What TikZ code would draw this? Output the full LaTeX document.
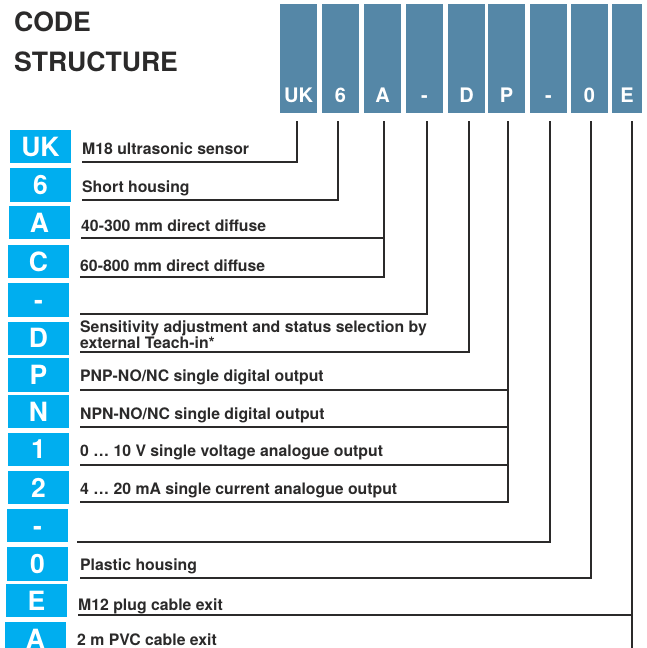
\documentclass[tikz,border=0pt]{standalone}
\usepackage{fontspec}
\setmainfont{TeX Gyre Heros}
\definecolor{headblue}{HTML}{5587A7}
\definecolor{codecyan}{HTML}{00AEEF}
\definecolor{inkline}{HTML}{2B2A2A}
\tikzset{
	hbox/.style={fill=headblue, text=white, inner sep=0pt, minimum width=37pt, text height=98pt, text depth=11pt, font=\fontsize{20}{20}\selectfont\bfseries},
	cbox/.style={fill=codecyan, text=white, inner sep=0pt, minimum width=61pt, text height=26.2pt, text depth=7.2pt, font=\fontsize{26.5}{26.5}\selectfont\bfseries},
	desc/.style={anchor=base west, inner sep=0pt, text=inkline, font=\fontsize{15.8}{16}\selectfont\bfseries},
	title/.style={anchor=base west, inner sep=0pt, text=inkline, font=\fontsize{26.6}{26.6}\selectfont\bfseries},
	conn/.style={draw=inkline, line width=1.8pt},
}
\begin{document}
\begin{tikzpicture}[x=1pt,y=-1pt]
					\useasboundingbox (0,0) rectangle (646,648);
					\path (14,31.7) node[title] (tCode) {CODE};
					\path (14,71) node[title] (tStruct) {STRUCTURE};
					
					\path (298.5,58.5) node[hbox] (hUK) {UK};
					\path (340.5,58.5) node[hbox] (h6) {6};
					\path (382.5,58.5) node[hbox] (hA) {A};
					\path (424.5,58.5) node[hbox] (hDashA) {-};
					\path (466.5,58.5) node[hbox] (hD) {D};
					\path (506.5,58.5) node[hbox] (hP) {P};
					\path (548.5,58.5) node[hbox] (hDashB) {-};
					\path (589.5,58.5) node[hbox] (h0) {0};
					\path (627,58.5) node[hbox, minimum width=30pt] (hE) {E};
					
					\path (40.5,146.7) node[cbox] (rUK) {UK};
					\path (40.5,185) node[cbox] (r6) {6};
					\path (39.5,222.7) node[cbox] (rA) {A};
					\path (38.5,261.7) node[cbox] (rC) {C};
					\path (38.5,300) node[cbox] (rDashA) {-};
					\path (38.5,338.4) node[cbox] (rD) {D};
					\path (38.5,375) node[cbox] (rP) {P};
					\path (38.5,411.7) node[cbox] (rN) {N};
					\path (38.5,449.4) node[cbox] (r1) {1};
					\path (38.5,487.7) node[cbox] (r2) {2};
					\path (37.5,525.7) node[cbox] (rDashB) {-};
					\path (37.5,564) node[cbox] (r0) {0};
					\path (36.5,600.6) node[cbox] (rE) {E};
					\path (35.5,639) node[cbox] (rA2) {A};
					
					\path (82,154.3) node[desc] (lUK) {M18 ultrasonic sensor};
					\path (82,192.7) node[desc] (l6) {Short housing};
					\path (81,231) node[desc] (lA) {40-300 mm direct diffuse};
					\path (80,271.7) node[desc] (lC) {60-800 mm direct diffuse};
					\path (80,332.3) node[desc] (lD) {Sensitivity adjustment and status selection by};
					\path (80,348.3) node[desc] (lDb) {external Teach-in*};
					\path (80,381.7) node[desc] (lP) {PNP-NO/NC single digital output};
					\path (80,419.3) node[desc] (lN) {NPN-NO/NC single digital output};
					\path (80,456.7) node[desc] (l1) {0 … 10 V single voltage analogue output};
					\path (80,494.3) node[desc] (l2) {4 … 20 mA single current analogue output};
					\path (80,570.7) node[desc] (l0) {Plastic housing};
					\path (78,610.7) node[desc] (lE) {M12 plug cable exit};
					\path (77,645) node[desc] (lA2) {2 m PVC cable exit};
					
					% line ends under the header
					\coordinate (tUK) at (297,121);
					\coordinate (t6) at (338,121);
					\coordinate (tA) at (384,121);
					\coordinate (tDashA) at (427,121);
					\coordinate (tD) at (469,121);
					\coordinate (tP) at (508,121);
					\coordinate (tDashB) at (550,121);
					\coordinate (t0) at (591,121);
					\coordinate (tE) at (632,121);
					
					% line ends under the texts
					\coordinate (uUK) at (82,162.3);
					\coordinate (u6) at (82,200);
					\coordinate (uA) at (81,238.3);
					\coordinate (uC) at (80,276.7);
					\coordinate (uDashA) at (80,314.3);
					\coordinate (uD) at (80,352.3);
					\coordinate (uP) at (80,390);
					\coordinate (uN) at (80,426.7);
					\coordinate (u1) at (80,465);
					\coordinate (u2) at (80,502.3);
					\coordinate (uDashB) at (77,541.7);
					\coordinate (u0) at (80,578.3);
					\coordinate (uE) at (78,615);
					\coordinate (uA2) at (77,654);
					
					\draw[conn] (uUK) -| (tUK);
					\draw[conn] (u6) -| (t6);
					\draw[conn] (uC) -| (tA);
					\draw[conn] (uA) -- (uA -| tA);
					\draw[conn] (uDashA) -| (tDashA);
					\draw[conn] (uD) -| (tD);
					\draw[conn] (u2) -| (tP);
					\draw[conn] (uP) -- (uP -| tP);
					\draw[conn] (uN) -- (uN -| tP);
					\draw[conn] (u1) -- (u1 -| tP);
					\draw[conn] (uDashB) -| (tDashB);
					\draw[conn] (u0) -| (t0);
					\draw[conn] (uA2) -| (tE);
					\draw[conn] (uE) -- (uE -| tE);
\end{tikzpicture}
\end{document}
